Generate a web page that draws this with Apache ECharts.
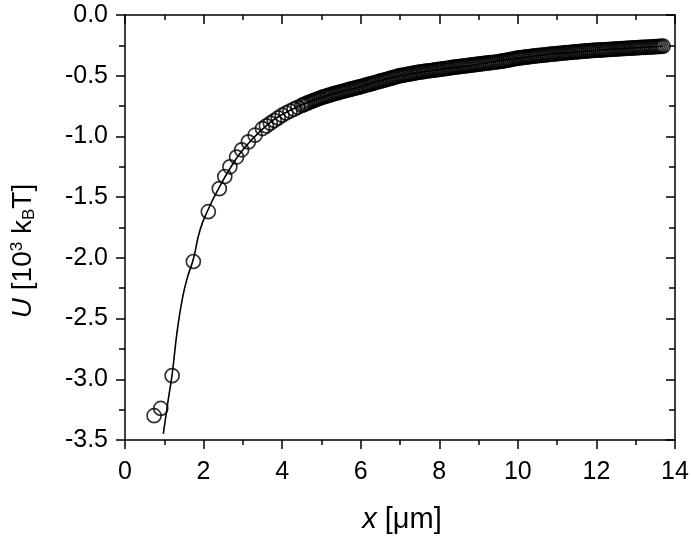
<!DOCTYPE html>
<html><head><meta charset="utf-8">
<script src="https://cdn.jsdelivr.net/npm/echarts@6/dist/echarts.min.js"></script>
<style>html,body{margin:0;padding:0;background:#fff}#c{width:692px;height:537px}</style>
</head><body><div id="c"></div>
<script>
var dataX = [0.74,0.91,1.20,1.74,2.12,2.40,2.54,2.67,2.84,2.97,3.14,3.31,
 3.5,3.6,3.7,3.8,3.9,4.0,4.1,4.2,4.3,4.4,
 4.50,4.55,4.60,4.65,4.70,4.75,4.80,4.85,4.90,4.95,
 5.00,5.05,5.10,5.15,5.20,5.25,5.30,5.35,5.40,5.45,
 5.50,5.55,5.60,5.65,5.70,5.75,5.80,5.85,5.90,5.95,
 6.00,6.05,6.10,6.15,6.20,6.25,6.30,6.35,6.40,6.45,
 6.50,6.55,6.60,6.65,6.70,6.75,6.80,6.85,6.90,6.95,
 7.00,7.05,7.10,7.15,7.20,7.25,7.30,7.35,7.40,7.45,
 7.50,7.55,7.60,7.65,7.70,7.75,7.80,7.85,7.90,7.95,
 8.00,8.05,8.10,8.15,8.20,8.25,8.30,8.35,8.40,8.45,
 8.50,8.55,8.60,8.65,8.70,8.75,8.80,8.85,8.90,8.95,
 9.00,9.05,9.10,9.15,9.20,9.25,9.30,9.35,9.40,9.45,
 9.50,9.55,9.60,9.65,9.70,9.75,9.80,9.85,9.90,9.95,
 10.00,10.05,10.10,10.15,10.20,10.25,10.30,10.35,10.40,10.45,
 10.50,10.55,10.60,10.65,10.70,10.75,10.80,10.85,10.90,10.95,
 11.00,11.05,11.10,11.15,11.20,11.25,11.30,11.35,11.40,11.45,
 11.50,11.55,11.60,11.65,11.70,11.75,11.80,11.85,11.90,11.95,
 12.00,12.05,12.10,12.15,12.20,12.25,12.30,12.35,12.40,12.45,
 12.50,12.55,12.60,12.65,12.70,12.75,12.80,12.85,12.90,12.95,
 13.00,13.05,13.10,13.15,13.20,13.25,13.30,13.35,13.40,13.45,
 13.50,13.55,13.60,13.65,13.70];
var dataU = [-3.30,-3.24,-2.97,-2.03,-1.62,-1.43,-1.33,-1.25,-1.17,-1.11,-1.045,-0.99,
 -0.935,-0.913,-0.891,-0.869,-0.847,-0.825,-0.807,-0.791,-0.775,-0.76,
 -0.745,-0.738,-0.731,-0.724,-0.717,-0.711,-0.704,-0.698,-0.692,-0.686,
 -0.68,-0.675,-0.67,-0.665,-0.66,-0.655,-0.65,-0.645,-0.641,-0.636,
 -0.632,-0.628,-0.624,-0.619,-0.615,-0.611,-0.607,-0.603,-0.598,-0.594,
 -0.59,-0.585,-0.581,-0.576,-0.572,-0.567,-0.563,-0.558,-0.554,-0.549,
 -0.545,-0.54,-0.536,-0.531,-0.527,-0.522,-0.518,-0.513,-0.509,-0.504,
 -0.50,-0.497,-0.494,-0.491,-0.488,-0.485,-0.482,-0.479,-0.476,-0.473,
 -0.47,-0.468,-0.466,-0.463,-0.461,-0.459,-0.457,-0.455,-0.452,-0.45,
 -0.448,-0.446,-0.443,-0.441,-0.439,-0.437,-0.434,-0.432,-0.43,-0.427,
 -0.425,-0.423,-0.421,-0.419,-0.417,-0.415,-0.413,-0.411,-0.409,-0.407,
 -0.405,-0.403,-0.401,-0.399,-0.397,-0.395,-0.393,-0.391,-0.389,-0.387,
 -0.385,-0.382,-0.38,-0.377,-0.374,-0.371,-0.368,-0.365,-0.362,-0.358,
 -0.355,-0.353,-0.351,-0.349,-0.347,-0.345,-0.343,-0.341,-0.339,-0.337,
 -0.335,-0.333,-0.332,-0.33,-0.328,-0.326,-0.325,-0.323,-0.321,-0.32,
 -0.318,-0.316,-0.315,-0.313,-0.312,-0.31,-0.309,-0.307,-0.306,-0.304,
 -0.303,-0.302,-0.30,-0.299,-0.298,-0.296,-0.295,-0.294,-0.292,-0.291,
 -0.29,-0.289,-0.288,-0.287,-0.286,-0.285,-0.284,-0.283,-0.282,-0.281,
 -0.28,-0.279,-0.278,-0.277,-0.276,-0.275,-0.274,-0.273,-0.272,-0.271,
 -0.27,-0.269,-0.268,-0.267,-0.266,-0.266,-0.265,-0.264,-0.263,-0.262,
 -0.261,-0.26,-0.259,-0.258,-0.257];
// Fit curve
var fitX = [0.975,1.1,1.2,1.33,1.47,1.6,1.74,1.91,2.12,2.4,2.7,3.0,3.5,4.0,5.0,6.0,7.0,8.0,9.0,10.0,11.0,12.0,13.0,13.7];
var fitU = [-3.45,-3.17,-2.96,-2.60,-2.32,-2.15,-2.01,-1.77,-1.60,-1.42,-1.25,-1.11,-0.94,-0.82,-0.68,-0.59,-0.50,-0.45,-0.405,-0.355,-0.318,-0.29,-0.27,-0.257];
var xTicks = [0,2,4,6,8,10,12,14];
var yTicks = [-3.5,-3.0,-2.5,-2.0,-1.5,-1.0,-0.5,0.0];

var pts = dataX.map(function(x,i){return [x,dataU[i]];});
var fit = fitX.map(function(x,i){return [x,fitU[i]];});
var FONT = '"Liberation Sans", Arial, sans-serif';
var BLK = {color:'#000',width:1.5};
var chart = echarts.init(document.getElementById('c'), null, {renderer:'canvas'});
function axisCommon(pos, inside, len, mlen, showLabel, labelCfg, ticks){
  return {
    type:'value',position:pos,min:ticks[0],max:ticks[ticks.length-1],interval:ticks[1]-ticks[0],
    axisLine:{show:true,onZero:false,lineStyle:BLK},
    axisTick:{show:true,inside:inside,length:len,lineStyle:BLK},
    minorTick:{show:true,splitNumber:2,length:mlen,lineStyle:BLK},
    splitLine:{show:false},minorSplitLine:{show:false},
    axisLabel:showLabel?labelCfg:{show:false}
  };
}
chart.setOption({
  animation:false,
  backgroundColor:'#fff',
  grid:{left:125,right:17,top:15,bottom:97,containLabel:false},
  xAxis:[
    axisCommon('bottom',false,9,5,true,{color:'#000',fontSize:25,fontFamily:FONT,margin:20,formatter:function(v){return String(v);}},xTicks),
    axisCommon('top',true,9,5,false,null,xTicks)
  ],
  yAxis:[
    axisCommon('left',false,9,6,true,{color:'#000',fontSize:25,fontFamily:FONT,margin:17,formatter:function(v){return v.toFixed(1);}},yTicks),
    axisCommon('right',true,9,6,false,null,yTicks)
  ],
  series:[{
    type:'line',data:fit,smooth:true,showSymbol:false,symbol:'none',
    lineStyle:{color:'#000',width:1.6},z:2
  },{
    type:'scatter',data:pts,symbol:'circle',symbolSize:14,
    itemStyle:{color:'rgba(255,255,255,0)',borderColor:'#000',borderWidth:1.7},z:3
  }],
  graphic:[{
    type:'text',x:402,y:520,
    style:{
      text:'{i|x} [μm]',
      font:'29px '+FONT,fill:'#000',align:'center',verticalAlign:'middle',
      rich:{i:{fontStyle:'italic',fontSize:29,fontFamily:FONT}}
    }
  },{
    type:'text',x:23,y:251,rotation:Math.PI/2,
    style:{
      text:'{i|U} [10{sup|3} k{sub|B}T]',
      font:'28px '+FONT,fill:'#000',align:'center',verticalAlign:'middle',
      rich:{
        i:{fontStyle:'italic',fontSize:28,fontFamily:FONT},
        sup:{fontSize:17,fontFamily:FONT,verticalAlign:'top',padding:[0,0,12,0]},
        sub:{fontSize:17,fontFamily:FONT,verticalAlign:'bottom',padding:[12,0,0,0]}
      }
    }
  }]
});
</script></body></html>
